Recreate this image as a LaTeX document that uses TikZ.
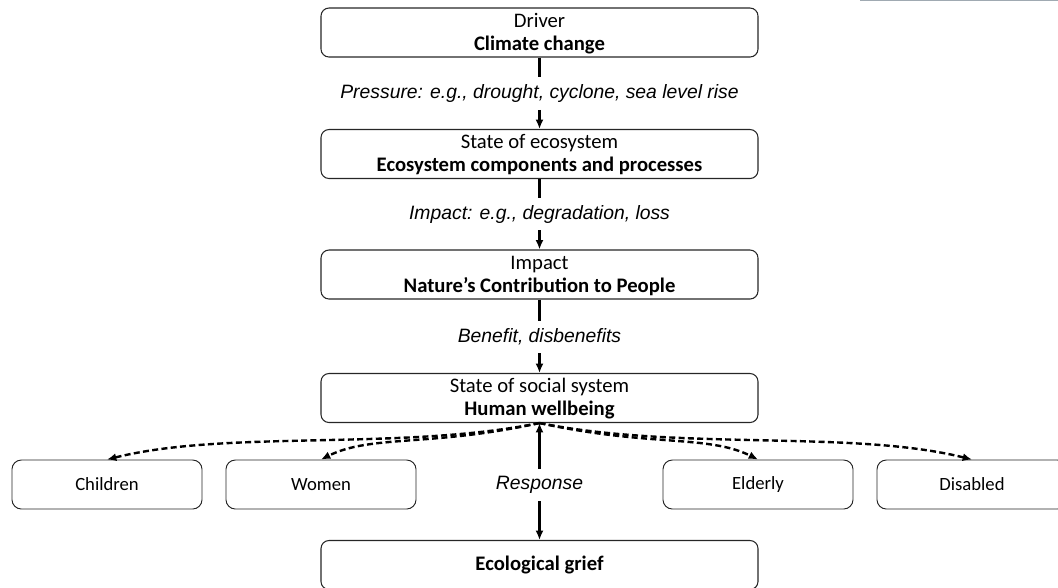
\documentclass[tikz,border=0pt]{standalone}
\usepackage{fontspec}
\setmainfont{Carlito}
\newfontfamily\arialfont{Liberation Sans}
\usepackage{tikz}
\usetikzlibrary{arrows,arrows.meta}
\usetikzlibrary{calc}
\definecolor{rand}{RGB}{38,38,38}
\definecolor{kante}{RGB}{160,170,178}

\begin{document}
\begin{tikzpicture}[x=0.75pt, y=-0.75pt,
	mainbox/.style={draw=rand, line width=0.8pt, rounded corners=6pt, minimum width=327.75pt, minimum height=36.75pt, align=center, inner sep=0pt, font=\fontsize{15.5}{17}\selectfont},
	groupbox/.style={draw=rand, line width=0.7pt, rounded corners=7pt, minimum width=142.5pt, minimum height=36.75pt, inner sep=0pt, font=\fontsize{14}{18}\selectfont},
	lbl/.style={font=\arialfont\itshape\fontsize{14.5}{17}\selectfont, inner sep=0pt, minimum height=24pt},
	link/.style={black, line width=1.9pt},
	tip/.style={-{Latex[length=7pt,width=6pt]}},
	spread/.style={black, line width=1.8pt, dash pattern=on 4.5pt off 2.5pt, -{Latex[length=7pt,width=6pt]}}]
	\useasboundingbox (0,0) rectangle (1058,587);
	\draw[kante, line width=1pt] (860,0.5) -- (1058,0.5);
	
	% chain of boxes
	\node[mainbox] (driver) at (539.5,32.5) {\strut Driver\\\textbf{Climate change}};
	\node[mainbox] (eco) at (539.5,154) {\strut State of ecosystem\\\textbf{Ecosystem components and processes}};
	\node[mainbox] (ncp) at (539.5,274.5) {\strut Impact\\\textbf{Nature’s Contribution to People}};
	\node[mainbox] (social) at (539.5,398) {\strut State of social system\\\textbf{Human wellbeing}};
	\node[mainbox] (grief) at (539.5,565) {\textbf{Ecological grief}};
	
	\node[lbl] (pressure) at (539.5,93.5) {Pressure: e.g., drought, cyclone, sea level rise};
	\node[lbl] (loss) at (539.5,214) {Impact: e.g., degradation, loss};
	\node[lbl] (benefit) at (539.5,337) {Benefit, disbenefits};
	\node[lbl] (response) at (539.5,485) {Response};
	
	\draw[link] (driver) -- (pressure);
	\draw[link, tip] (pressure) -- (eco);
	\draw[link] (eco) -- (loss);
	\draw[link, tip] (loss) -- (ncp);
	\draw[link] (ncp) -- (benefit);
	\draw[link, tip] (benefit) -- (social);
	\draw[link, tip] (response) -- (social);
	\draw[link, tip] (response) -- (grief);
	
	% groups
	\foreach \name/\txt/\x in {kids/Children/107, women/Women/321, elderly/Elderly/758, disabled/Disabled/972}{
		\node[groupbox] (\name) at (\x,484.5) {\txt};
	}
	\foreach \name/\ax/\ay/\bx/\by in {kids/-140/28/120/-30, women/-110/24/50/-25, elderly/110/24/-50/-25, disabled/140/28/-120/-30}{
		\draw[spread] (social.south) .. controls +(\ax,\ay) and +(\bx,\by) .. (\name.north);
	}
\end{tikzpicture}
\end{document}
